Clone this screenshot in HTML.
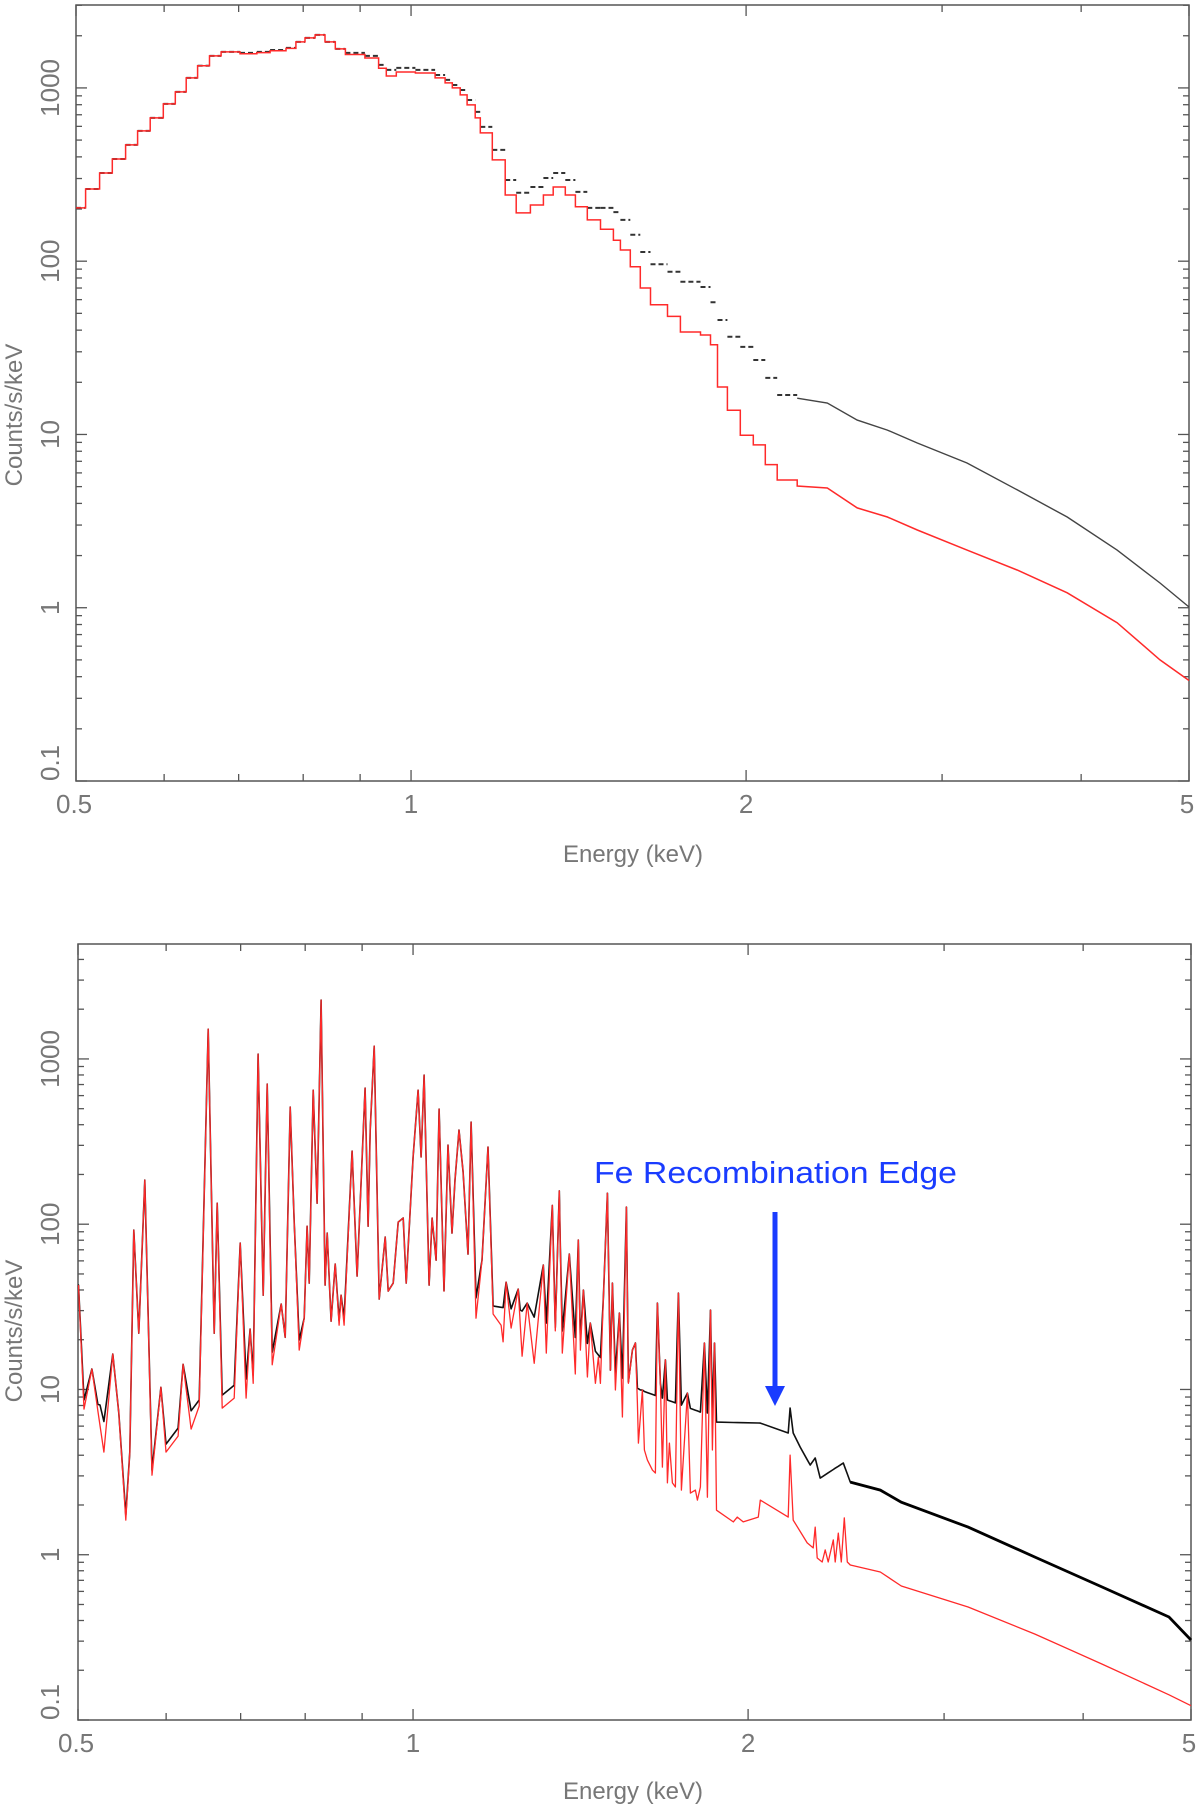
<!DOCTYPE html>
<html><head><meta charset="utf-8"><style>
html,body{margin:0;padding:0;background:#fff;}
svg{display:block;}
text{font-family:"Liberation Sans",sans-serif;}
</style></head><body>
<svg id="fig" width="1200" height="1809" viewBox="0 0 1200 1809" xmlns="http://www.w3.org/2000/svg">
<g id="top"></g>
<g id="bot"></g>
</svg>
<script>
// ---------- TOP PANEL DATA ----------
const topE = [0.500,0.510,0.525,0.539,0.554,0.568,0.583,0.599,0.614,0.628,0.643,0.659,0.675,0.702,0.727,0.747,0.772,0.788,0.803,0.820,0.837,0.855,0.873,0.909,0.935,0.950,0.970,1.009,1.051,1.073,1.089,1.107,1.123,1.142,1.154,1.183,1.215,1.243,1.280,1.315,1.342,1.376,1.405,1.440,1.480,1.520,1.542,1.574,1.607,1.641,1.700,1.746,1.820,1.858,1.885,1.924,1.976,2.030,2.081,2.133,2.223,2.366,2.517,2.679,2.850,3.159,3.504,3.886,4.309,4.709,5.0];
const topBlack = [203,261,323,389,469,565,671,809,949,1143,1341,1531,1614,1592,1614,1656,1702,1843,1945,2023,1843,1679,1592,1531,1357,1270,1304,1270,1188,1112,1040,973,852,727,596,439,294,248,268,302,323,294,251,203,203,192,173,142,113,96,87,76,71,58,45.8,36.6,32.0,26.9,21.2,16.9,16.2,15.2,12.1,10.6,8.93,6.84,4.79,3.34,2.15,1.39,1.01];
const topRed = [203,261,323,389,469,565,671,809,949,1143,1341,1531,1614,1575,1600,1640,1690,1843,1945,2023,1843,1679,1560,1489,1300,1172,1236,1219,1143,1069,1000,911,798,671,550,384,241,190,211,241,268,241,206,173,153,132,116,93,70,56,48,39,37.5,32.9,18.8,13.8,9.9,8.7,6.7,5.46,5.04,4.91,3.77,3.34,2.81,2.15,1.65,1.22,0.82,0.50,0.38];

// ---------- BOTTOM PANEL DATA ----------
const botRedE = [0.5005,0.5062,0.5146,0.5210,0.5275,0.5373,0.5440,0.5520,0.5566,0.5612,0.5670,0.5741,0.5827,0.5936,0.5998,0.6150,0.6214,0.6318,0.6425,0.6546,0.6627,0.6669,0.6738,0.6907,0.6993,0.7080,0.7139,0.7184,0.7258,0.7334,0.7395,0.7472,0.7613,0.7676,0.7755,0.7820,0.7901,0.7983,0.8032,0.8066,0.8133,0.8200,0.8268,0.8337,0.8372,0.8441,0.8512,0.8582,0.8617,0.8670,0.8815,0.8907,0.9056,0.9113,0.9151,0.9227,0.9323,0.9440,0.9499,0.9598,0.9697,0.9798,0.9859,1.0002,1.0106,1.0169,1.0232,1.0337,1.0401,1.0488,1.0553,1.0662,1.0751,1.0840,1.0907,1.0998,1.1090,1.1205,1.1275,1.1392,1.1534,1.1678,1.1800,1.1999,1.2049,1.2124,1.2250,1.2429,1.2532,1.2663,1.2848,1.3093,1.3174,1.3339,1.3422,1.3534,1.3618,1.3817,1.3990,1.4077,1.4136,1.4224,1.4342,1.4431,1.4582,1.4673,1.4733,1.4825,1.4949,1.5042,1.5104,1.5198,1.5325,1.5420,1.5548,1.5612,1.5743,1.5841,1.5906,1.5939,1.6072,1.6139,1.6240,1.6408,1.6510,1.6579,1.6682,1.6751,1.6855,1.6925,1.6995,1.7101,1.7208,1.7315,1.7423,1.7640,1.7750,1.7933,1.8007,1.8120,1.8271,1.8384,1.8502,1.8578,1.8657,1.8735,1.9398,1.9559,1.9800,2.0425,2.0511,2.1729,2.1818,2.1954,2.2603,2.2886,2.2980,2.3076,2.3315,2.3460,2.3606,2.3853,2.3951,2.4101,2.4251,2.4403,2.4555,2.4708,2.6292,2.7457,3.1528,3.6210,4.1604,4.7776,5.0];
const botRedV = [42.8,7.61,13.3,7.40,4.18,16.4,7.20,1.62,4.18,92.1,21.9,185,3.03,10.3,4.18,5.22,14.2,5.76,7.94,1514,21.9,134,7.71,8.87,76.9,8.87,23.2,10.9,1069,37.2,704,14.1,32.9,20.7,511,103,17.3,27.0,97.3,44.0,647,134,2270,42.8,88.3,25.9,57.4,24.5,37.2,24.5,277,48.5,666,97.3,371,1195,35.2,83.6,39.4,44.0,103,109,44.0,255,647,255,798,42.8,109,60.6,497,39.4,301,88.3,185,371,207,65.9,415,27.0,60.6,293,28.6,24.5,19.4,44.6,23.5,40.5,15.9,33.3,14.4,56.6,16.6,130,22.6,159,16.6,65.9,12.4,80.2,17.3,39.9,11.9,25.2,10.9,15.7,10.9,36.2,154,13.1,44.0,9.92,29.0,6.81,127,10.9,17.3,19.1,8.27,4.74,9.92,4.30,3.74,3.25,3.12,33.3,10.9,3.39,15.1,2.72,4.74,2.72,2.57,38.3,2.46,9.51,2.36,2.46,2.14,2.57,19.1,2.23,30.2,4.30,19.1,1.86,1.58,1.69,1.58,1.69,2.14,1.69,4.01,1.62,1.18,1.10,1.47,0.955,0.904,1.07,0.904,1.23,0.904,1.35,0.904,1.67,0.904,0.867,0.786,0.647,0.483,0.331,0.218,0.142,0.122];
const botBlackE = [0.5000,0.5062,0.5233,0.5520,0.5827,0.5998,0.6150,0.6425,0.6738,0.6907,0.7184,0.7472,0.7901,0.8670,0.9737,1.0575,1.1252,1.1829,1.2481,1.3562,1.4431,1.5042,1.6006,1.8120,1.8657,1.8735,2.0511,2.1729,2.1818,2.1954,2.2278,2.2742,2.2980,2.3218,2.4352,2.4708,2.6292,2.7457,3.1528,3.6210,4.1604,4.7776,5.0];
const botBlackV = [42.8,8.63,8.05,1.74,3.25,4.67,5.84,8.63,9.25,10.6,12.2,16.8,19.9,27.0,34.7,39.9,37.2,31.9,30.2,22.9,18.6,13.1,9.92,7.30,7.10,6.35,6.26,5.45,7.71,5.45,4.48,3.49,3.85,2.91,3.59,2.75,2.46,2.08,1.47,0.968,0.638,0.420,0.305];

const xTickVals = [0.5,0.6,0.7,0.8,0.9,1,2,3,4,5];
const xTickLabels = ["0.5","1","2","5"];
const yDecadeLabels = ["0.1","1","10","100","1000"];

const NS = "http://www.w3.org/2000/svg";
function mk(parent, tag, attrs, txt){
  const e = document.createElementNS(NS, tag);
  for (const k in attrs) e.setAttribute(k, attrs[k]);
  if (txt !== undefined) e.textContent = txt;
  parent.appendChild(e);
  return e;
}
function makeAxes(left, right, top, bottom, yMax){
  const dec = (bottom-top)/Math.log10(yMax/0.1);
  return {
    left, right, top, bottom, yMax, dec,
    x: E => left + (right-left)*Math.log10(E/0.5),
    y: v => bottom - (Math.log10(v)+1)*dec
  };
}
function logInterp(Es, Vs, E){
  if (E <= Es[0]) return Vs[0];
  for (let i=1;i<Es.length;i++){
    if (E <= Es[i]){
      const t = Math.log(E/Es[i-1])/Math.log(Es[i]/Es[i-1]);
      return Math.exp(Math.log(Vs[i-1]) + t*(Math.log(Vs[i])-Math.log(Vs[i-1])));
    }
  }
  return Vs[Vs.length-1];
}
function drawFrame(g, ax, xLabY, titleY, yTitleY){
  const frame = mk(g,'rect',{x:ax.left,y:ax.top,width:ax.right-ax.left,height:ax.bottom-ax.top,fill:'none',stroke:'#555','stroke-width':1.5});
  
  
  xTickVals.forEach(E=>{
    const X = ax.x(E);
    const len = (E===1||E===2||E===5||E===0.5) ? 11 : 7;
    const t1 = mk(g,'line',{x1:X,y1:ax.bottom,x2:X,y2:ax.bottom-len,stroke:'#555','stroke-width':1.3});
    
    
    const t2 = mk(g,'line',{x1:X,y1:ax.top,x2:X,y2:ax.top+len,stroke:'#555','stroke-width':1.3});
    
    
  });
  xTickLabels.forEach(s=>{
    const E = parseFloat(s);
    let X = ax.x(E);
    let anchor = 'middle';
    if (E===0.5){ X = ax.left-20; anchor='start'; }
    if (E===5){ X = ax.right-2; }
    const t = mk(g,'text',{x:X,y:ax.bottom+32,'font-size':26,fill:'#777','text-anchor':anchor},s);
    
    
  });
  for (let d=-1; d<=4; d++){
    for (let m=1;m<=9;m++){
      const v = m*Math.pow(10,d);
      if (v < 0.1 || v > ax.yMax) continue;
      const Y = ax.y(v);
      const len = m===1 ? 11 : 6;
      const a = mk(g,'line',{x1:ax.left,y1:Y,x2:ax.left+len,y2:Y,stroke:'#555','stroke-width':1.3});
      
      
      const b = mk(g,'line',{x1:ax.right,y1:Y,x2:ax.right-len,y2:Y,stroke:'#555','stroke-width':1.3});
      
      
    }
  }
  yDecadeLabels.forEach(s=>{
    const v = parseFloat(s);
    let Y = ax.y(v);
    const X = 59;
    const t = mk(g,'text',{x:X,y:Y,'font-size':26,fill:'#777','text-anchor': v===0.1?'start':'middle',transform:`rotate(-90 ${X} ${Y})`},s);
    
    
  });
  const xt = mk(g,'text',{x:633,y:titleY,'font-size':24,fill:'#777','text-anchor':'middle'},'Energy (keV)');
  
  
  const yt = mk(g,'text',{x:22,y:yTitleY,'font-size':24,fill:'#777','text-anchor':'middle',transform:`rotate(-90 22 ${yTitleY})`},'Counts/s/keV');
  
  
}

// ---------- TOP ----------
const gTop = document.getElementById('top');
const axT = makeAxes(76,1189,5,781,3010);
drawFrame(gTop, axT, 0, 862, 415);
const stepLimit = 2.14;
(function(){
  let dB = '';
  let dSmooth = '';
  for (let i=0;i<topE.length;i++){
    const x0 = axT.x(topE[i]);
    const y0 = axT.y(topBlack[i]);
    if (topE[i] < stepLimit && i < topE.length-1){
      const x1 = axT.x(topE[i+1]);
      dB += `M${x0.toFixed(1)},${y0.toFixed(1)}H${x1.toFixed(1)}`;
    } else {
      dSmooth += (dSmooth? 'L':'M') + `${x0.toFixed(1)},${y0.toFixed(1)}`;
    }
  }
  const pb = mk(gTop,'path',{d:dB,fill:'none',stroke:'#333','stroke-width':2,'stroke-dasharray':'5 3'});
  
  
  const ps = mk(gTop,'path',{d:dSmooth,fill:'none',stroke:'#444','stroke-width':1.4});
  
  
  let dR = '';
  for (let i=0;i<topE.length;i++){
    const x0 = axT.x(topE[i]);
    const y0 = axT.y(topRed[i]);
    if (i===0){ dR += `M${x0.toFixed(1)},${y0.toFixed(1)}`; }
    else if (topE[i] <= stepLimit){ dR += `V${y0.toFixed(1)}`; }
    else { dR += `L${x0.toFixed(1)},${y0.toFixed(1)}`; }
    if (topE[i] < stepLimit && i < topE.length-1){
      dR += `H${axT.x(topE[i+1]).toFixed(1)}`;
    }
  }
  const pr = mk(gTop,'path',{d:dR,fill:'none',stroke:'#ff2a2a','stroke-width':1.5});
  
  
})();

// ---------- BOTTOM ----------
const gBot = document.getElementById('bot');
const axB = makeAxes(78,1191,944,1720,4960);
drawFrame(gBot, axB, 0, 1799, 1331);
(function(){
  const allE = Array.from(new Set(botRedE.concat(botBlackE))).sort((a,b)=>a-b);
  let d = '';
  allE.forEach((E,i)=>{
    const v = Math.max(logInterp(botRedE,botRedV,E), logInterp(botBlackE,botBlackV,E));
    d += (i? 'L':'M') + `${axB.x(E).toFixed(1)},${axB.y(v).toFixed(1)}`;
  });
  const pb = mk(gBot,'path',{d:d,fill:'none',stroke:'#111','stroke-width':1.6,'stroke-linejoin':'round'});
  
  
  let d2 = '';
  botBlackE.forEach((E,i)=>{
    if (E < 2.44) return;
    d2 += (d2? 'L':'M') + `${axB.x(E).toFixed(1)},${axB.y(botBlackV[i]).toFixed(1)}`;
  });
  const pb2 = mk(gBot,'path',{d:d2,fill:'none',stroke:'#000','stroke-width':2.8});
  
  
  let dr = '';
  botRedE.forEach((E,i)=>{
    dr += (i? 'L':'M') + `${axB.x(E).toFixed(1)},${axB.y(botRedV[i]).toFixed(1)}`;
  });
  const pr = mk(gBot,'path',{d:dr,fill:'none',stroke:'#ff2a2a','stroke-width':1.3,'stroke-linejoin':'round'});
  
  
})();
const ann = mk(gBot,'text',{x:594,y:1183,'font-size':31,fill:'#1a3cff',textLength:363,lengthAdjust:'spacingAndGlyphs'},'Fe Recombination Edge');


const arr = mk(gBot,'line',{x1:775,y1:1212,x2:775,y2:1390,stroke:'#1a3cff','stroke-width':5});


const head = mk(gBot,'polygon',{points:'765,1386 785,1386 775,1406',fill:'#1a3cff'});


</script>
</body></html>
